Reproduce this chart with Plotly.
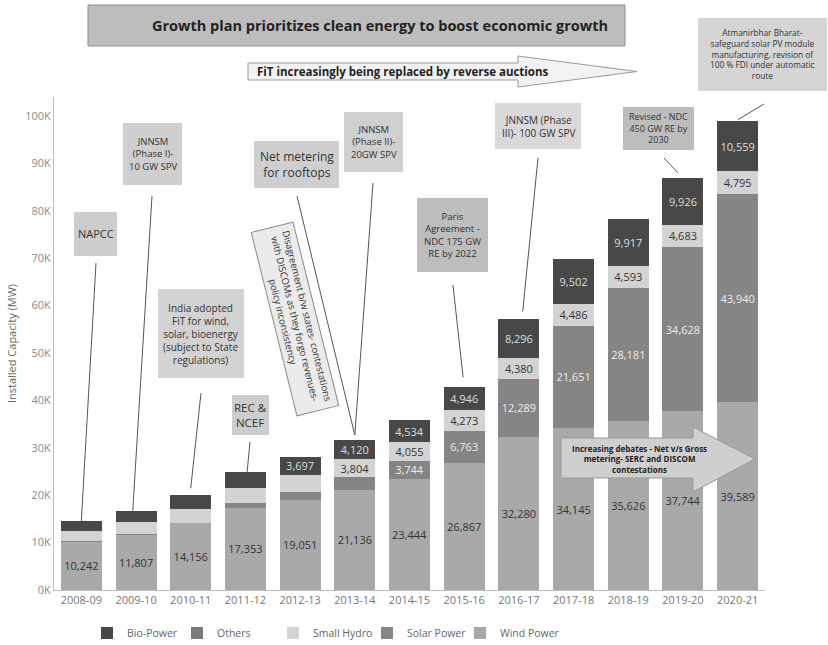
import plotly.graph_objects as go

# Installed renewable capacity in India (MW) by fiscal year
years = ["2008-09", "2009-10", "2010-11", "2011-12", "2012-13", "2013-14", "2014-15",
         "2015-16", "2016-17", "2017-18", "2018-19", "2019-20", "2020-21"]
wind_power = [10242, 11807, 14156, 17353, 19051, 21136, 23444, 26867, 32280, 34145, 35626, 37744, 39589]
solar_power = [6, 10, 35, 941, 1600, 2632, 3744, 6763, 12289, 21651, 28181, 34628, 43940]
others = [0, 0, 0, 0, 0, 0, 0, 0, 0, 0, 0, 0, 0]
small_hydro = [2300, 2600, 2950, 3300, 3700, 3804, 4055, 4273, 4380, 4486, 4593, 4683, 4795]
bio_power = [2000, 2300, 2800, 3200, 3697, 4120, 4534, 4946, 8296, 9502, 9917, 9926, 10559]

# which segments carry a value label
wind_labeled = [True] * 13
solar_labeled = [False] * 6 + [True] * 7
hydro_labeled = [False] * 5 + [True] * 8
bio_labeled = [False] * 4 + [True] * 9

y_ticks = [0, 10000, 20000, 30000, 40000, 50000, 60000, 70000, 80000, 90000, 100000]
y_tick_text = ["0K", "10K", "20K", "30K", "40K", "50K", "60K", "70K", "80K", "90K", "100K"]

FONT = "Open Sans"
W, H = 828, 645
L, R, T, B = 54, 63, 97, 55
PW, PH = W - L - R, H - T - B
Y_MAX = 104000


def fmt(vals, show):
    return [f"{v:,}" if s else "" for v, s in zip(vals, show)]


def X(px):
    return (px - L) / PW


def Y(py):
    return (H - B - py) / PH


def xd(px):
    return (px - L) / PW * len(years) - 0.5


def yd(py):
    return (H - B - py) / PH * Y_MAX


def label(x, y, text, size, color="#333333", **kw):
    return dict(xref="paper", yref="paper", x=X(x), y=Y(y), text=text, showarrow=False,
                xanchor="center", yanchor="middle", font=dict(family=FONT, size=size, color=color), **kw)


fig = go.Figure()

# (name, values, colour, labelled, label colour, legend id, legend text start px)
series = [
    ("Wind Power", wind_power, "#a9a9a9", wind_labeled, "#333333", "legend5", 500),
    ("Solar Power", solar_power, "#858585", solar_labeled, "#ececec", "legend4", 407),
    ("Others", others, "#7b7b7b", [False] * 13, "#333333", "legend2", 217),
    ("Small Hydro", small_hydro, "#d3d3d3", hydro_labeled, "#333333", "legend3", 313),
    ("Bio-Power", bio_power, "#484848", bio_labeled, "#dddddd", "legend", 127),
]
legend_layout = {}
for name, vals, color, show, tcol, leg, tx in series:
    fig.add_trace(go.Bar(
        x=years, y=vals, name=name, marker=dict(color=color, line=dict(width=0)),
        text=fmt(vals, show), textposition="inside", insidetextanchor="middle",
        textangle=0, textfont=dict(family=FONT, size=11, color=tcol),
        legend=leg, hoverinfo="x+y+name",
    ))
    legend_layout[leg] = dict(orientation="h", x=X(tx - 40), xanchor="left", y=Y(633), yanchor="middle",
                              font=dict(family=FONT, size=10.5, color="#666666"),
                              bgcolor="rgba(0,0,0,0)")

totals = [w + s + o + h + b for w, s, o, h, b in zip(wind_power, solar_power, others, small_hydro, bio_power)]

shapes = []
annotations = []

# plain callout boxes: (x0, y0, x1, y1, fill, text, size)
boxes = [
    (74, 212, 117, 256, "#cdcdcd", "NAPCC", 11),
    (123, 123, 182, 185, "#cfcfcf", "JNNSM<br>(Phase I)-<br>10 GW SPV", 9.5),
    (158, 289, 244, 378, "#d3d3d3", "India adopted<br>FiT for wind,<br>solar, bioenergy<br>(subject to State<br>regulations)", 10),
    (232, 395, 269, 435, "#cdcdcd", "REC &<br>NCEF", 11.5),
    (254, 141, 339, 188, "#cfcfcf", "Net metering<br>for rooftops", 12),
    (344, 112, 403, 172, "#d0d0d0", "JNNSM<br>(Phase II)-<br>20GW SPV", 9.5),
    (417, 198, 488, 272, "#bdbdbd", "Paris<br>Agreement -<br>NDC 175 GW<br>RE by 2022", 9.5),
    (495, 103, 581, 149, "#d9d9d9", "JNNSM (Phase<br>III)- 100 GW SPV", 10),
    (623, 107, 694, 150, "#bdbdbd", "Revised - NDC<br>450 GW RE by<br>2030", 9),
    (698, 18, 827, 91, "#d5d5d5", "Atmanirbhar Bharat-<br>safeguard solar PV module<br>manufacturing, revision of<br>100 % FDI under automatic<br>route", 8.3),
]
for x0, y0, x1, y1, fill, txt, size in boxes:
    shapes.append(dict(type="rect", xref="paper", yref="paper", x0=X(x0), x1=X(x1), y0=Y(y1), y1=Y(y0),
                       fillcolor=fill, line=dict(width=0), layer="above"))
    annotations.append(label((x0 + x1) / 2, (y0 + y1) / 2, txt, size))

# leader lines from callouts to bar tops: (start px, start py, bar index, dx, gap above top)
leaders = [
    (96, 263, 0, 0.0, 0),
    (152, 196, 1, -0.06, 0),
    (201, 393, 2, 0.0, 1500),
    (250, 442, 3, 0.03, 0),
    (297, 196, 5, 0.0, 1000),
    (373, 183, 5, 0.0, 1000),
    (453, 285, 7, -0.02, 2000),
    (538, 158, 8, 0.07, 1500),
    (664, 158, 11, -0.09, 1000),
    (764, 104, 12, 0.0, 300),
]
for sx, sy, i, dx, gap in leaders:
    shapes.append(dict(type="line", xref="x", yref="y", x0=xd(sx), y0=yd(sy), x1=i + dx, y1=totals[i] + gap,
                       line=dict(color="#555555", width=1), layer="above"))

# headline banner
shapes.append(dict(type="rect", xref="paper", yref="paper", x0=X(88), x1=X(625), y0=Y(46), y1=Y(5),
                   fillcolor="#bdbdbd", line=dict(color="#8f8f8f", width=1), layer="above"))
annotations.append(label(380, 25.5, "<b>Growth plan prioritizes clean energy to boost economic growth</b>",
                         14.5, "#222222"))


def arrow_path(pts):
    return "M " + " L ".join(f"{X(a):.5f},{Y(b):.5f}" for a, b in pts) + " Z"


# top block arrow
top_arrow = [(248, 63), (518, 63), (518, 56), (637, 71.5), (518, 87), (518, 80), (248, 80)]
shapes.append(dict(type="path", xref="paper", yref="paper", path=arrow_path(top_arrow),
                   fillcolor="#f2f2f2", line=dict(color="#9a9a9a", width=1), layer="above"))
annotations.append(label(403, 71.5, "<b>FiT increasingly being replaced by reverse auctions</b>", 11.5, "#222222"))

# lower block arrow over the recent bars
low_arrow = [(561, 438), (693, 438), (693, 427), (755, 459), (693, 492), (693, 478), (561, 478)]
shapes.append(dict(type="path", xref="paper", yref="paper", path=arrow_path(low_arrow),
                   fillcolor="#cfcfcf", line=dict(color="#9a9a9a", width=1), layer="above"))
annotations.append(label(639, 459, "<b>Increasing debates - Net v/s Gross<br>metering- SERC and DISCOM<br>contestations</b>",
                         8, "#222222"))

# tilted note
annotations.append(label(295, 319,
                         "Disagreement b/w states- contestations<br>with DISCOMs as they forgo revenues-<br>policy inconsistency",
                         9.5, textangle=76, width=186, height=40,
                         bgcolor="#ebebeb", bordercolor="#8a8a8a", borderwidth=1))

fig.update_layout(
    width=W, height=H, margin=dict(l=L, r=R, t=T, b=B, autoexpand=False),
    barmode="stack", bargap=0.25,
    paper_bgcolor="white", plot_bgcolor="white",
    font=dict(family=FONT, size=11, color="#666666"),
    shapes=shapes, annotations=annotations,
    showlegend=True,
    uniformtext=dict(minsize=11, mode="show"),
    **legend_layout,
)
fig.update_xaxes(type="category", range=[-0.5, len(years) - 0.5], showline=True, linecolor="#bdbdbd",
                 linewidth=1, showgrid=False, ticks="", tickfont=dict(family=FONT, size=11, color="#777777"))
fig.update_yaxes(range=[0, Y_MAX], tickvals=y_ticks, ticktext=y_tick_text, showline=True,
                 linecolor="#bdbdbd", linewidth=1, showgrid=False, zeroline=False, ticks="",
                 tickfont=dict(family=FONT, size=11, color="#8a8a8a"),
                 title=dict(text="Installed Capacity (MW)", font=dict(family=FONT, size=11, color="#666666"),
                            standoff=6))

fig.write_html("out.html")
